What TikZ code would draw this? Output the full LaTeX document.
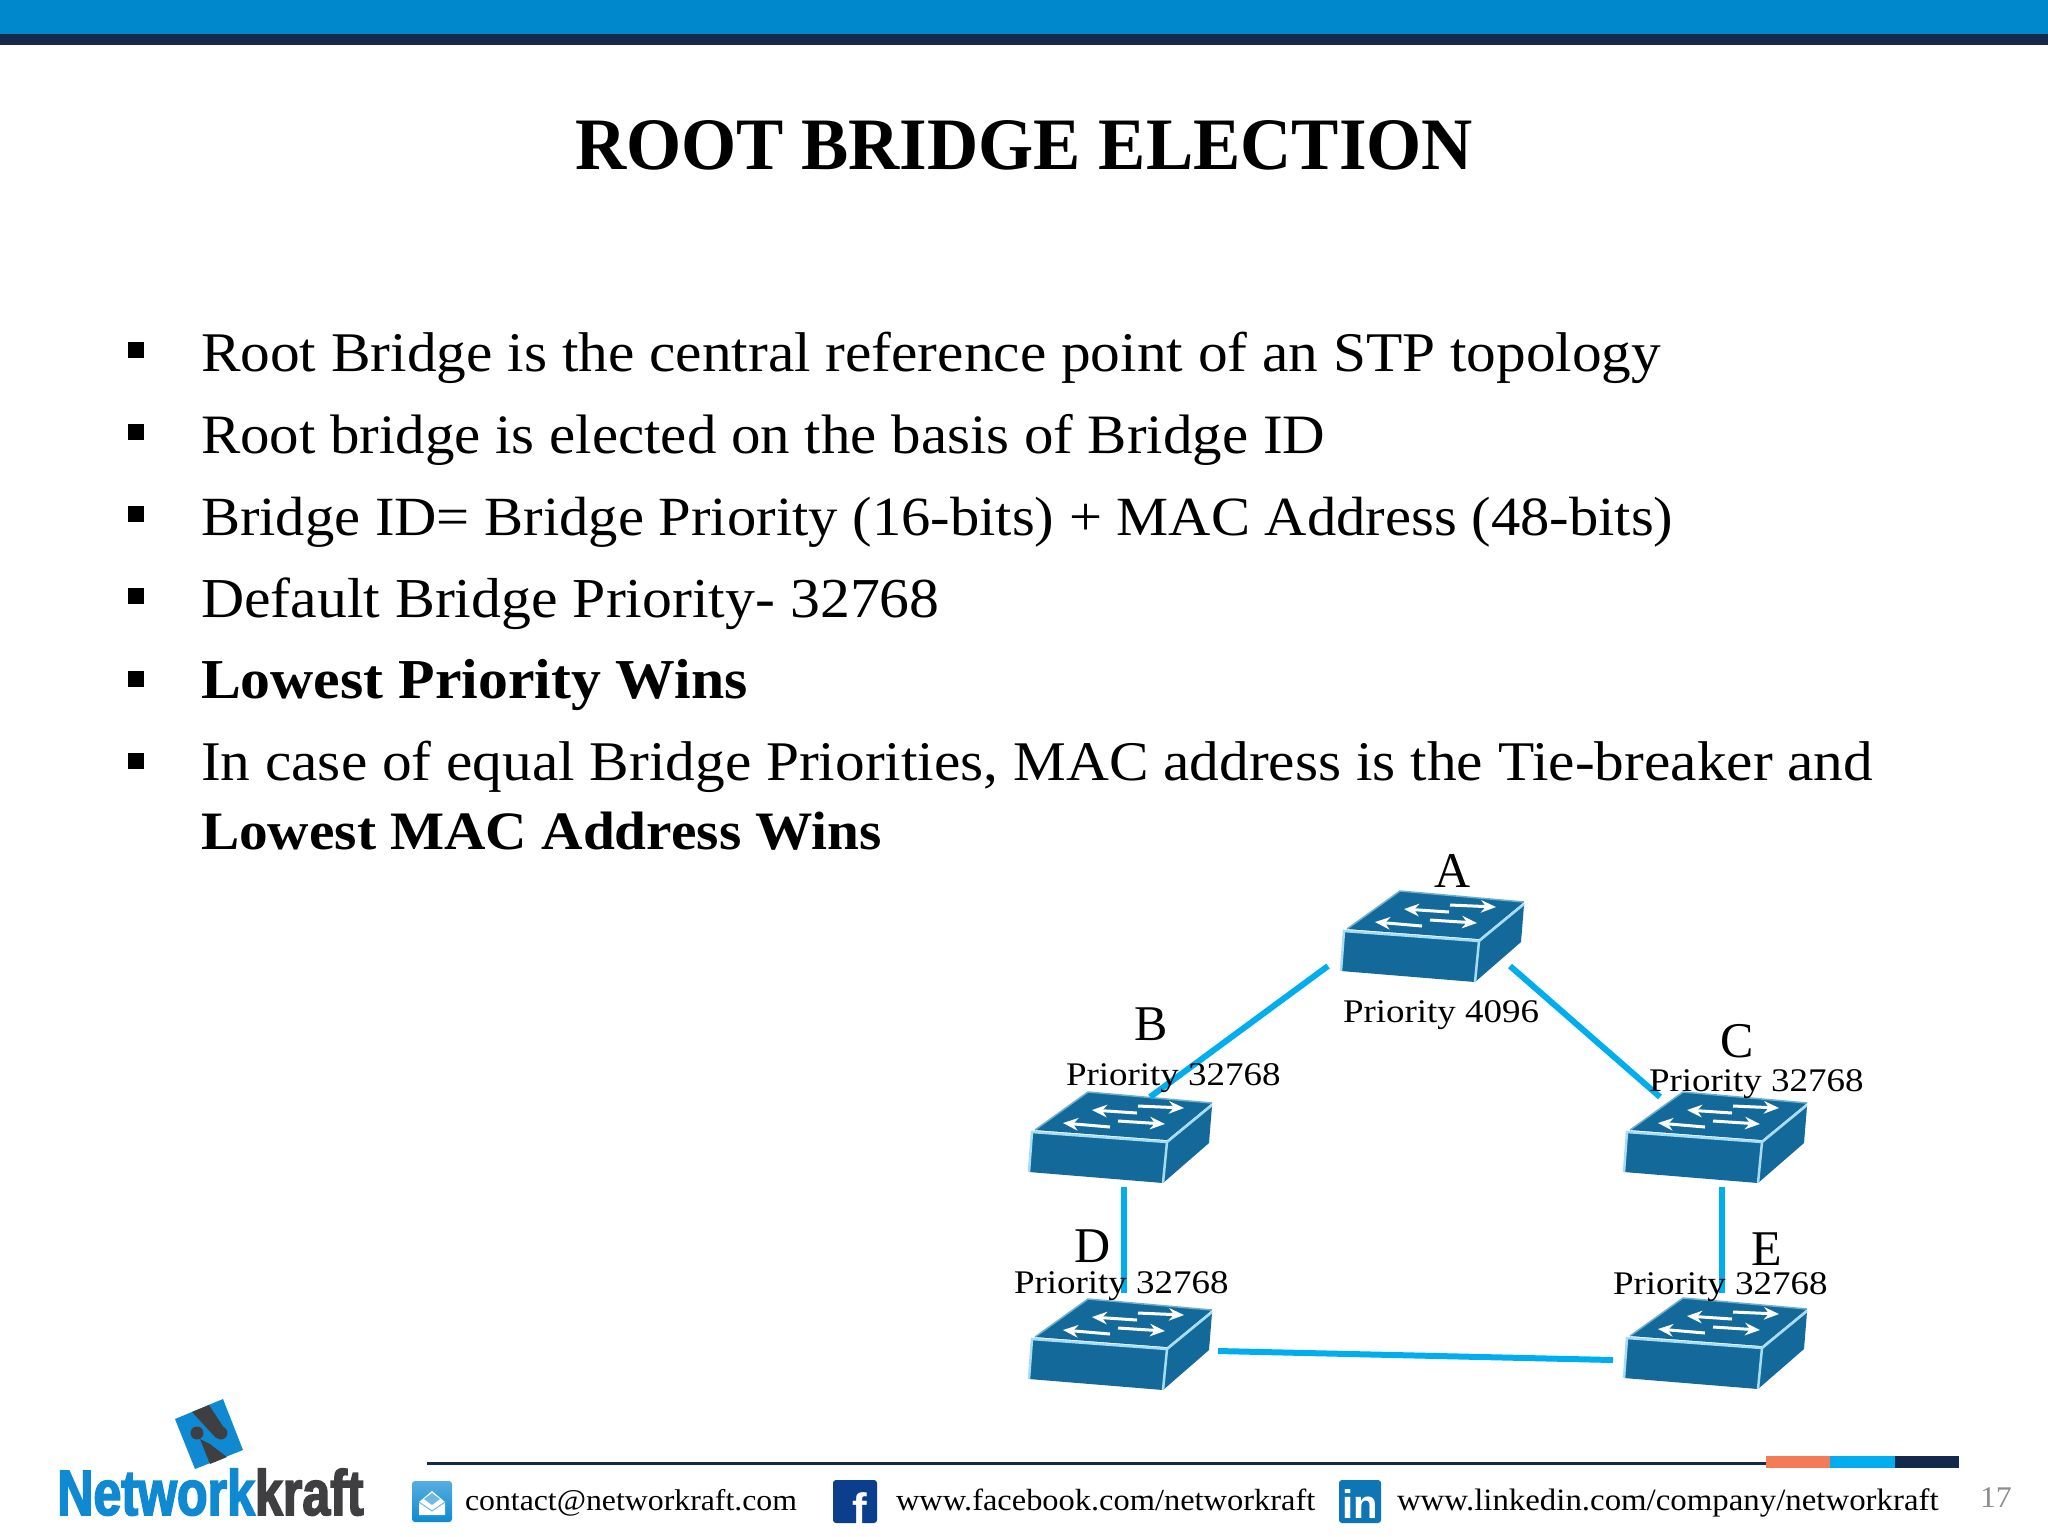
\documentclass[tikz,border=0pt]{standalone}
\usepackage{fontspec}
\usetikzlibrary{arrows.meta}
\setmainfont{Liberation Serif}
\newfontfamily\cam[FakeStretch=1.06]{Liberation Serif}
\newfontfamily\camt[FakeStretch=0.958]{Liberation Serif}
\newfontfamily\camp[FakeStretch=1.12]{Liberation Serif}
\newfontfamily\logofont[FakeStretch=0.783,FakeBold=2.5]{Liberation Sans Bold}
\newfontfamily\iconfont{Liberation Sans Bold}
\newcommand{\fsz}[1]{\fontsize{\dimexpr#1pt*569/1000\relax}{\dimexpr#1pt*569/1000\relax}\selectfont}
\definecolor{barblue}{HTML}{0088CC}
\definecolor{navy}{HTML}{14294B}
\definecolor{swfill}{HTML}{136A9A}
\definecolor{swedge}{HTML}{A6DDF5}
\definecolor{link}{HTML}{00AEEF}
\definecolor{coral}{HTML}{F47B58}
\definecolor{logoblue}{HTML}{0F8AD2}
\definecolor{logodark}{HTML}{3F3F42}
\definecolor{fbblue}{HTML}{0C3E8E}
\definecolor{liblue}{HTML}{0E76B4}
\tikzset{
  txt/.style={inner sep=0pt,outer sep=0pt,anchor=base west,text=black},
  bodytxt/.style={txt,font=\cam\fsz{#1}},
  boldtxt/.style={txt,font=\cam\bfseries\fsz{#1}},
  bul/.style={fill=black,draw=none,minimum size=0.32cm,inner sep=0pt,outer sep=0pt,rectangle},
  prio/.style={txt,font=\camp\fsz{33}},
  letterlab/.style={inner sep=0pt,outer sep=0pt,anchor=base,font=\rmfamily\fsz{50}},
  foot/.style={txt,font=\cam\fsz{#1}},
  netlink/.style={draw=link,line width=0.12cm},
  swarrow/.style={draw=white,line width=0.06cm,-{Stealth[length=0.3cm,width=0.25cm]}},
  switchicon/.pic={
    \fill[swfill] (0,0) -- (135,10) -- (131,51) -- (-3,40) -- cycle;
    \fill[swfill] (3,-2) -- (56,-40) -- (180,-29) -- (135,8) -- cycle;
    \fill[swfill] (135,10) -- (180,-26) -- (177,11) -- (131,51) -- cycle;
    \draw[swedge,line width=0.05cm] (-3,40) -- (0,0) -- (135,10) -- (131,51);
    \draw[swedge,line width=0.05cm] (135,10) -- (180,-27);
    \draw[swedge!60!swfill,line width=0.03cm] (3,-2) -- (56,-40) -- (180,-29);
    \draw[swarrow] (105,-19) -- (60,-22);
    \draw[swarrow] (106,-26) -- (152,-24);
    \draw[swarrow] (78,-5) -- (31,-9);
    \draw[swarrow] (86,-11) -- (133,-8);
  }
}
\begin{document}
\begin{tikzpicture}[x=0.02cm,y=-0.02cm]
\useasboundingbox (0,0) rectangle (2048,1536);
\fill[white] (0,0) rectangle (2048,1536);
% top bars
\fill[barblue] (0,0) rectangle (2048,34);
\fill[navy] (0,34) rectangle (2048,45);
% title
\node[inner sep=0pt,anchor=base,font=\camt\bfseries\fsz{74}] (title) at (1024,169) {ROOT BRIDGE ELECTION};
% bullets
\foreach \n/\y in {b1/350,b2/432,b3/514,b4/596,b5/679,b6/761} \node[bul] (\n) at (136,\y) {};
\node[bodytxt=56] (l1) at (201,371) {Root Bridge is the central reference point of an STP topology};
\node[bodytxt=55.6] (l2) at (201,453) {Root bridge is elected on the basis of Bridge ID};
\node[bodytxt=55.3] (l3) at (201,535) {Bridge ID= Bridge Priority (16-bits) + MAC Address (48-bits)};
\node[bodytxt=56.4] (l4) at (201,617) {Default Bridge Priority- 32768};
\node[boldtxt=56.4] (l5) at (201,698) {Lowest Priority Wins};
\node[bodytxt=56] (l6) at (201,780) {In case of equal Bridge Priorities, MAC address is the Tie-breaker and};
\node[boldtxt=54.1] (l7) at (201,849) {Lowest MAC Address Wins};
% switches
\coordinate (swA) at (1344,931);
\coordinate (swB) at (1032,1132);
\coordinate (swC) at (1627,1132);
\coordinate (swD) at (1032,1339);
\coordinate (swE) at (1627,1338);
\foreach \s in {swA,swB,swC,swD,swE} \pic at (\s) {switchicon};
% connector ends
\coordinate (abA) at (1328,966);
\coordinate (abB) at (1150,1097);
\coordinate (acA) at (1510,966);
\coordinate (acC) at (1660,1097);
\coordinate (bdB) at (1124,1187);
\coordinate (bdD) at (1124,1293);
\coordinate (ceC) at (1722,1187);
\coordinate (ceE) at (1722,1293);
\coordinate (deD) at (1218,1351);
\coordinate (deE) at (1613,1360);
\draw[netlink] (abA) -- (abB);
\draw[netlink] (acA) -- (acC);
\draw[netlink] (bdB) -- (bdD);
\draw[netlink] (ceC) -- (ceE);
\draw[netlink] (deD) -- (deE);
% switch labels
\node[letterlab] (la) at (1453,887) {A};
\node[letterlab] (lb) at (1151,1040) {B};
\node[letterlab] (lc) at (1737,1057) {C};
\node[letterlab] (ld) at (1093,1262) {D};
\node[letterlab] (le) at (1767,1265) {E};
\node[prio] (pa) at (1343,1022) {Priority 4096};
\node[prio] (pb) at (1066,1085) {Priority 32768};
\node[prio] (pc) at (1649,1091) {Priority 32768};
\node[prio] (pd) at (1014,1293) {Priority 32768};
\node[prio] (pe) at (1613,1294) {Priority 32768};
% logo
\fill[logoblue] (223,1399) -- (175,1419) -- (195,1469) -- (243,1450) -- cycle;
\fill[logodark] (192,1412) -- (209,1405) -- (226,1431) -- (216,1438) -- cycle;
\fill[logodark] (200,1439) -- (210,1444) -- (227,1457) -- (210,1464) -- cycle;
\fill[logodark] (197,1433) circle (6.5);
\fill[logodark] (221,1433) circle (6.5);
\node[inner sep=0pt,anchor=base west,font=\logofont\fsz{64}] (logotxt) at (57,1515) {\textcolor{logoblue}{Network}\textcolor{logodark}{kraft}};
% footer rule
\fill[navy] (427,1461.5) rectangle (1766,1464.5);
\fill[coral] (1766,1456) rectangle (1830,1468);
\fill[link] (1830,1456) rectangle (1895,1468);
\fill[navy] (1895,1456) rectangle (1959,1468);
% mail icon
\shade[top color=logoblue!70!white,bottom color=logoblue,rounded corners=0.06cm] (412,1481) rectangle (452,1522);
\fill[white] (419,1502) -- (432,1491) -- (445,1502) -- (445,1515) -- (419,1515) -- cycle;
\fill[logoblue!60!white] (424,1499) -- (432,1493) -- (440,1499) -- (432,1505) -- cycle;
\draw[logoblue!60!white,line width=0.02cm] (419,1502) -- (432,1511) -- (445,1502);
% facebook icon
\fill[fbblue,rounded corners=0.06cm] (833,1480) rectangle (877,1523);
\node[inner sep=0pt,anchor=base,text=white,font=\iconfont\fsz{44}] (fb) at (860,1524) {f};
% linkedin icon
\fill[liblue,rounded corners=0.06cm] (1339,1480) rectangle (1381,1523);
\node[inner sep=0pt,anchor=base,text=white,font=\iconfont\fsz{40}] (li) at (1360,1518) {in};
% footer text
\node[foot=30] (f1) at (465,1510) {contact@networkraft.com};
\node[foot=30.6] (f2) at (896,1510) {www.facebook.com/networkraft};
\node[foot=31] (f3) at (1397,1510) {www.linkedin.com/company/networkraft};
\node[foot=30,text=black!45] (f4) at (1980,1507) {17};
\end{tikzpicture}
\end{document}
